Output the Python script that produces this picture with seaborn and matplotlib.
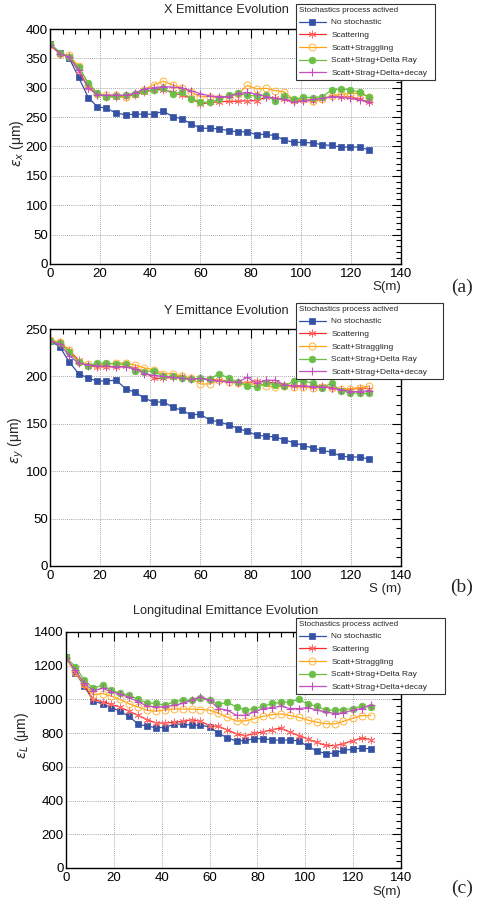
import matplotlib
matplotlib.use("Agg")
import matplotlib.pyplot as plt
from matplotlib.ticker import MultipleLocator
import seaborn as sns

# ---------------- data ----------------
S = [0.0, 3.9, 7.6, 11.4, 15.3, 18.8, 22.5, 26.3, 30.2, 33.9, 37.6, 41.3, 45.2, 48.9, 52.6,
     56.2, 60.0, 63.7, 67.4, 71.3, 75.0, 78.7, 82.4, 86.2, 89.9, 93.5, 97.3, 101.1, 104.8,
     108.6, 112.3, 115.9, 119.8, 123.5, 127.3]

labels = ["No stochastic", "Scattering", "Scatt+Straggling", "Scatt+Strag+Delta Ray",
          "Scatt+Strag+Delta+decay"]

# X emittance (um)
x_nostoch = [375, 360, 351, 318, 283, 268, 265, 257, 254, 255, 255, 255, 260, 251, 247,
             239, 231, 231, 230, 227, 225, 225, 220, 221, 218, 211, 207, 207, 206, 203,
             202, 199, 199, 199, 194]
x_scatt = [375, 358, 354, 328, 300, 289, 285, 284, 285, 288, 293, 296, 297, 292, 287,
           283, 272, 275, 276, 277, 277, 278, 278, 284, 282, 280, 278, 279, 277, 280,
           286, 285, 284, 281, 275]
x_strag = [373, 357, 355, 337, 305, 290, 287, 287, 285, 290, 297, 305, 311, 305, 300,
           292, 285, 285, 283, 285, 290, 304, 298, 299, 295, 293, 279, 281, 278, 281,
           286, 289, 290, 291, 284]
x_delta = [375, 360, 352, 335, 308, 291, 284, 286, 287, 290, 294, 297, 300, 289, 293,
           281, 276, 275, 280, 287, 291, 287, 286, 288, 277, 286, 280, 284, 283, 285,
           296, 298, 297, 292, 284]
x_decay = [373, 358, 352, 330, 300, 288, 287, 288, 287, 291, 298, 300, 302, 301, 300,
           295, 290, 286, 285, 285, 290, 292, 289, 285, 282, 280, 275, 278, 280, 282,
           285, 284, 282, 279, 276]

# Y emittance (um)
y_nostoch = [237.6, 231.3, 215.4, 203, 198, 195.2, 195.2, 196, 187, 183.2, 177.2, 173, 173,
             167.8, 164.1, 159.6, 160, 154, 152, 149, 145, 142, 138, 137, 136, 133, 130,
             127, 124.5, 122, 120, 116, 115, 115, 112.7]
y_scatt = [238, 236, 228, 217, 211, 210, 210, 210, 211, 209, 205, 198, 198, 199, 200,
           198, 197, 197, 196, 195, 193, 193, 195, 194, 193, 191, 190, 190, 189, 190,
           188, 186, 186, 188, 187]
y_strag = [238, 236, 228, 215, 213, 212, 213, 214, 214, 212, 209, 207, 203, 203, 200,
           198, 192, 192, 196, 194, 193, 192, 192, 190, 189, 190, 189, 189, 188, 189,
           188, 187, 187, 188, 190]
y_delta = [237, 235, 226, 215, 211, 214, 214, 213, 213, 206, 205, 206, 200, 200, 198,
           197, 198, 197, 203, 198, 194, 190, 189, 193, 191, 190, 195, 195, 193, 188,
           193, 185, 183, 182, 182]
y_decay = [237, 234, 222, 214, 212, 211, 211, 210, 210, 208, 203, 201, 200, 199, 198,
           197, 198, 196, 195, 194, 194, 199, 193, 196, 196, 191, 190, 190, 189, 189,
           188, 186, 184, 184, 185]

# Longitudinal emittance (um)
l_nostoch = [1250, 1159, 1080, 992, 972, 952, 932, 900, 853, 841, 833, 833, 853, 853, 847,
             847, 837, 800, 772, 753, 757, 767, 767, 761, 757, 761, 753, 722, 694, 678,
             682, 698, 704, 712, 706]
l_scatt = [1250, 1165, 1085, 1000, 985, 970, 955, 930, 905, 880, 860, 860, 865, 870, 880,
           870, 845, 840, 820, 795, 785, 798, 808, 820, 830, 806, 786, 765, 745, 727,
           726, 738, 755, 772, 762]
l_strag = [1245, 1160, 1090, 1027, 1035, 1020, 1000, 975, 955, 935, 930, 938, 943, 943, 943,
           940, 937, 918, 895, 872, 873, 885, 900, 910, 914, 905, 894, 877, 865, 856,
           855, 870, 888, 904, 904]
l_delta = [1250, 1195, 1115, 1066, 1085, 1056, 1036, 1026, 1000, 980, 976, 966, 986, 996, 996,
           1006, 996, 972, 982, 956, 936, 946, 960, 976, 982, 986, 1000, 972, 960, 936,
           936, 940, 946, 960, 956]
l_decay = [1245, 1175, 1095, 1052, 1066, 1046, 1032, 1012, 986, 960, 956, 956, 966, 976, 996,
           1016, 996, 946, 936, 906, 906, 926, 946, 952, 960, 946, 946, 952, 936, 926,
           916, 920, 936, 946, 966]

# ---------------- styling ----------------
sns.set_style("white")
plt.rcParams["font.family"] = ["Liberation Sans", "DejaVu Sans"]
plt.rcParams["mathtext.fontset"] = "dejavusans"

W, H = 478, 906
fig = plt.figure(figsize=(W / 100, H / 100), dpi=100)

styles = [
    dict(color="#3551a4", marker="s", markersize=4.8, markerfacecolor="#3551a4",
         markeredgecolor="#3551a4", markeredgewidth=0.5),
    dict(color="#ff2a2a", marker=(6, 2, 0), markersize=5.5, markerfacecolor="none",
         markeredgecolor="#ff6a6a", markeredgewidth=0.6),
    dict(color="#ffa510", marker="o", markersize=5.0, markerfacecolor="none",
         markeredgecolor="#ffb43c", markeredgewidth=0.7),
    dict(color="#6abf45", marker="o", markersize=4.8, markerfacecolor="#6abf45",
         markeredgecolor="#6abf45", markeredgewidth=0.5),
    dict(color="#c24fbf", marker="+", markersize=6.0, markerfacecolor="none",
         markeredgecolor="#c24fbf", markeredgewidth=0.8),
]

panels = [
    dict(ax=(50, 29, 401, 264), data=[x_nostoch, x_scatt, x_strag, x_delta, x_decay],
         ylim=400, ymaj=50, ymin=10, title="X Emittance Evolution", title_y=10,
         ylabel=r"$\epsilon_{x}$ (μm)", ylab_pos=(17, 143), xlabel="S(m)", xlab_y=287,
         leg=(296, 4, 435), tag="(a)", tag_y=287),
    dict(ax=(50, 329, 401, 566), data=[y_nostoch, y_scatt, y_strag, y_delta, y_decay],
         ylim=250, ymaj=50, ymin=10, title="Y Emittance Evolution", title_y=311,
         ylabel=r"$\epsilon_{y}$ (μm)", ylab_pos=(16, 440), xlabel="S (m)", xlab_y=589,
         leg=(296, 303, 443), tag="(b)", tag_y=587),
    dict(ax=(66, 632, 401, 868), data=[l_nostoch, l_scatt, l_strag, l_delta, l_decay],
         ylim=1400, ymaj=200, ymin=40, title="Longitudinal Emittance Evolution", title_y=611,
         ylabel=r"$\epsilon_{L}$ (μm)", ylab_pos=(22, 735), xlabel="S(m)", xlab_y=892,
         leg=(296, 618, 445), tag="(c)", tag_y=888),
]

for p in panels:
    x0, y0, x1, y1 = p["ax"]
    ax = fig.add_axes([x0 / W, 1 - y1 / H, (x1 - x0) / W, (y1 - y0) / H])
    for vals, lab, st in zip(p["data"], labels, styles):
        sns.lineplot(x=S, y=vals, ax=ax, label=lab, linewidth=0.9, **st)
    ax.set_xlim(0, 140)
    ax.set_ylim(0, p["ylim"])
    ax.xaxis.set_major_locator(MultipleLocator(20))
    ax.xaxis.set_minor_locator(MultipleLocator(5))
    ax.yaxis.set_major_locator(MultipleLocator(p["ymaj"]))
    ax.yaxis.set_minor_locator(MultipleLocator(p["ymin"]))
    ax.tick_params(which="both", direction="in", top=True, right=True, colors="black",
                   width=0.8)
    ax.tick_params(which="major", length=6.5, labelsize=9.5)
    ax.tick_params(which="minor", length=3.5)
    ax.tick_params(axis="y", pad=1.5)
    ax.tick_params(axis="x", pad=3)
    ax.grid(True, which="major", color="#8a8a8a", linestyle=(0, (1, 1.5)), linewidth=0.6)
    ax.set_axisbelow(True)
    for sp in ax.spines.values():
        sp.set_color("black")
        sp.set_linewidth(1.0)
    ax.set_xlabel("")
    ax.set_ylabel("")

    lx0, ly0, lx1 = p["leg"]
    handles, labs = ax.get_legend_handles_labels()
    leg = ax.legend(handles, labs, title="Stochastics process actived",
                    loc="upper left",
                    bbox_to_anchor=(lx0 / W, 1 - ly0 / H, (lx1 - lx0) / W, 0.0001),
                    bbox_transform=fig.transFigure, mode="expand",
                    fontsize=6, title_fontsize=5.8, alignment="left",
                    frameon=True, fancybox=False, framealpha=1, edgecolor="#333333",
                    borderpad=0.35, labelspacing=0.58, handlelength=3.2,
                    handletextpad=0.7, borderaxespad=0)
    leg.get_frame().set_linewidth(0.8)
    leg.set_zorder(10)

    fig.text(226 / W, 1 - p["title_y"] / H, p["title"], ha="center", va="center",
             fontsize=9.2)
    fig.text(p["ylab_pos"][0] / W, 1 - p["ylab_pos"][1] / H, p["ylabel"], rotation=90,
             ha="center", va="center", fontsize=10)
    fig.text(401 / W, 1 - p["xlab_y"] / H, p["xlabel"], ha="right", va="center",
             fontsize=9.5)
    fig.text(462 / W, 1 - p["tag_y"] / H, p["tag"], ha="center", va="center",
             fontsize=14, family="Liberation Serif")

fig.savefig("out.png", dpi=100)
